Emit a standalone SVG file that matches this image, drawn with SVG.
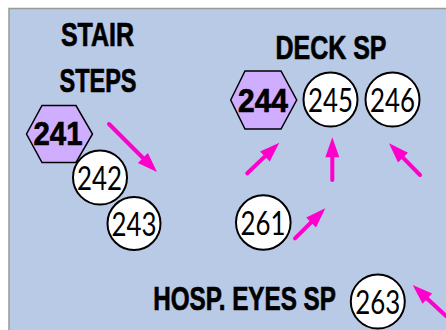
<svg xmlns="http://www.w3.org/2000/svg" width="446" height="330" viewBox="0 0 446 330">
<style>
.title{font-family:"Liberation Sans",Arial,sans-serif;font-weight:bold;font-size:33px;fill:#000;stroke:#000;stroke-width:0.7;text-anchor:middle}
.hex{fill:#D0AEFF;stroke:#000;stroke-width:1.5}
.circ{fill:#fff;stroke:#000;stroke-width:2}
.bnum{font-family:"Liberation Sans",Arial,sans-serif;font-weight:bold;font-size:33px;fill:#000;stroke:#000;stroke-width:0.7;text-anchor:middle}
.num{font-family:"Lato","Liberation Sans",sans-serif;font-weight:400;font-size:33px;fill:#000;text-anchor:middle}
.arr line{stroke:#FF00CC;stroke-width:4;stroke-linecap:round}
.arr polygon{fill:#FF00CC}
</style>
<rect x="9" y="8.5" width="440" height="330" fill="#B9CAE7" stroke="#999" stroke-width="1.5"/>
<g id="labels">
<text class="title" transform="translate(97.5,45.5) scale(0.758,1)">STAIR</text>
<text class="title" transform="translate(98,92) scale(0.712,1)">STEPS</text>
<text class="title" transform="translate(331,59) scale(0.757,1)">DECK SP</text>
<text class="title" transform="translate(244.5,309.5) scale(0.735,1)">HOSP. EYES SP</text>
</g>
<g id="n241"><polygon class="hex" points="26.5,134 42,105.5 76,105.5 92.5,134 76,162.5 42,162.5"/><text class="bnum" x="58" y="145" textLength="49" lengthAdjust="spacingAndGlyphs">241</text></g>
<g id="n242"><circle class="circ" cx="100" cy="177.5" r="27"/><text class="num" x="99.5" y="190" textLength="45" lengthAdjust="spacingAndGlyphs">242</text></g>
<g id="n243"><circle class="circ" cx="134" cy="223.5" r="26.5"/><text class="num" x="134" y="236" textLength="45" lengthAdjust="spacingAndGlyphs">243</text></g>
<g id="n244"><polygon class="hex" points="230.7,100 245,71 281,71 296.7,100 281,129 245,129"/><text class="bnum" x="263" y="111.5" textLength="50" lengthAdjust="spacingAndGlyphs">244</text></g>
<g id="n245"><circle class="circ" cx="330.5" cy="99.5" r="27"/><text class="num" x="330.5" y="112" textLength="45" lengthAdjust="spacingAndGlyphs">245</text></g>
<g id="n246"><circle class="circ" cx="392.5" cy="99.5" r="27"/><text class="num" x="392.5" y="112" textLength="45" lengthAdjust="spacingAndGlyphs">246</text></g>
<g id="n261"><circle class="circ" cx="263.3" cy="222.5" r="27.3"/><text class="num" x="263" y="235" textLength="45" lengthAdjust="spacingAndGlyphs">261</text></g>
<g id="n263"><circle class="circ" cx="377.8" cy="301.5" r="27"/><text class="num" x="377.8" y="314" textLength="45" lengthAdjust="spacingAndGlyphs">263</text></g>
<g id="connectors" class="arr">
<line x1="109" y1="124" x2="144" y2="159"/><polygon points="157,172 137.9,162.9 147.9,152.9"/>
<line x1="247.3" y1="173.3" x2="266" y2="155.4"/><polygon points="279.3,142.7 269.7,161.6 260.1,151.5"/>
<line x1="332.3" y1="180" x2="332.3" y2="156"/><polygon points="332.3,137.3 325.3,157.3 339.3,157.3"/>
<line x1="420" y1="175" x2="402" y2="156.6"/><polygon points="389,143.3 408,152.7 398,162.5"/>
<line x1="295" y1="238.3" x2="312" y2="221.5"/><polygon points="325.3,208.3 316,227.4 306.2,217.4"/>
<line x1="446" y1="316" x2="426.3" y2="297.7"/><polygon points="412.7,285 432.1,293.5 422.5,303.7"/>
</g>
</svg>
